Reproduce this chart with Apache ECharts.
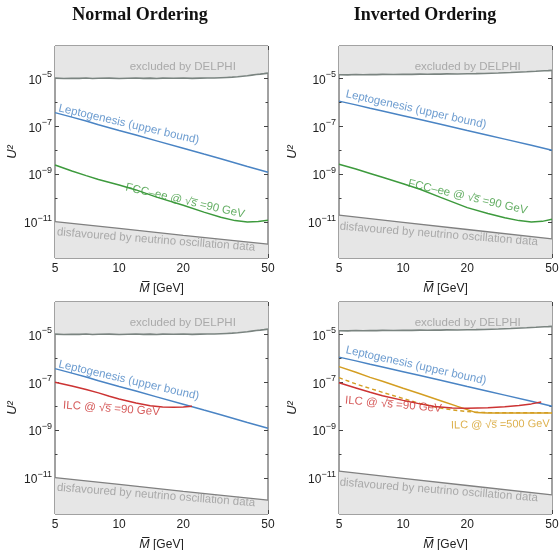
<!DOCTYPE html>
<html><head><meta charset="utf-8">
<script src="https://cdn.jsdelivr.net/npm/echarts@6/dist/echarts.min.js"></script>
<style>html,body{margin:0;padding:0;background:#fff}#c{width:560px;height:550px}</style>
</head><body><div id="c"></div>
<script>
// ---------- data ----------
const xMajorTicks = [5, 10, 20, 50];
const xMinorTicks = [6, 7, 8, 9, 30, 40];
const yMajorTicks = [1e-11, 1e-9, 1e-7, 1e-5];
const yMinorTicks = [1e-12, 1e-10, 1e-8, 1e-6, 1e-4];
const panelTitles = ['Normal Ordering', 'Inverted Ordering'];
const xTitle = 'M\u0305 [GeV]';
const yTitle = 'U²';

const delphiM  = [5,5.5,6,6.5,7,7.5,8,9,10,11,12,13,14,15,16,18,20,22,24,26,28,30,32,34,36,38,40,42,44,46,48,50];
const delphiNO = [1.02e-5,0.99e-5,1.01e-5,1.0e-5,1.03e-5,0.99e-5,1.01e-5,1.02e-5,0.99e-5,1.01e-5,1.03e-5,1.0e-5,1.02e-5,0.99e-5,1.02e-5,1.01e-5,1.03e-5,1.0e-5,1.02e-5,1.04e-5,1.03e-5,1.06e-5,1.09e-5,1.12e-5,1.16e-5,1.22e-5,1.28e-5,1.36e-5,1.44e-5,1.5e-5,1.57e-5,1.65e-5];
const delphiIO = [1.42e-5,1.4e-5,1.44e-5,1.41e-5,1.45e-5,1.43e-5,1.46e-5,1.44e-5,1.48e-5,1.46e-5,1.5e-5,1.48e-5,1.51e-5,1.5e-5,1.53e-5,1.52e-5,1.56e-5,1.58e-5,1.6e-5,1.64e-5,1.67e-5,1.72e-5,1.76e-5,1.8e-5,1.84e-5,1.88e-5,1.93e-5,1.97e-5,2.02e-5,2.06e-5,2.1e-5,2.15e-5];

const oscM  = [5, 10, 20, 50];
const oscNO = [1.05e-11, 5.5e-12, 2.8e-12, 1.2e-12];
const oscIO = [1.95e-11, 9.8e-12, 4.9e-12, 2.0e-12];

const leptoM  = [5,6,7,8,10,12,15,20,25,30,40,50];
const leptoNO = [3.7e-7,2.4e-7,1.65e-7,1.15e-7,6.6e-8,4.3e-8,2.45e-8,1.2e-8,6.9e-9,4.4e-9,2.1e-9,1.2e-9];
const leptoIO = [1.12e-6,7.8e-7,5.6e-7,4.3e-7,2.75e-7,1.9e-7,1.2e-7,6.6e-8,4.2e-8,2.9e-8,1.6e-8,1.0e-8];

const fccM  = [5,6,7,8,10,12,15,20,25,30,35,40,45,50];
const fccNO = [2.4e-9,1.35e-9,8.7e-10,6.0e-10,3.5e-10,2.2e-10,1.1e-10,5.0e-11,2.6e-11,1.6e-11,1.15e-11,1.0e-11,1.05e-11,1.2e-11];
const fccIO = [2.6e-9,1.65e-9,1.07e-9,7.4e-10,4.0e-10,2.35e-10,1.07e-10,4.0e-11,2.3e-11,1.5e-11,1.15e-11,1.0e-11,1.07e-11,1.3e-11];

const ilc90NOM = [5,6,7,8,9,10,12,14,16,18,20,22];
const ilc90NO  = [1.0e-7,7.0e-8,5.0e-8,3.6e-8,2.6e-8,2.0e-8,1.35e-8,1.05e-8,9.2e-9,9.0e-9,9.3e-9,1.0e-8];
const ilc90IOM = [5,6,7,8,10,12,14,17,20,25,30,35,40,44.5];
const ilc90IO  = [9.5e-8,5.8e-8,3.8e-8,2.75e-8,1.75e-8,1.25e-8,9.8e-9,8.5e-9,8.3e-9,8.7e-9,9.5e-9,1.07e-8,1.25e-8,1.5e-8];

const ilc500M      = [5,6,7,8,10,12,15,18,20,22,25,30,40,50];
const ilc500Solid  = [4.5e-7,2.6e-7,1.6e-7,1.1e-7,5.6e-8,3.3e-8,1.7e-8,9.8e-9,7.2e-9,5.4e-9,5.2e-9,5.2e-9,5.2e-9,5.2e-9];
const ilc500Dashed = [1.55e-7,8.5e-8,5.5e-8,3.8e-8,2.1e-8,1.3e-8,8.3e-9,6.6e-9,6.0e-9,5.6e-9,5.4e-9,5.3e-9,5.3e-9,5.3e-9];

// ---------- styling / layout ----------
const FONT = "'Liberation Sans', Arial, 'DejaVu Sans', sans-serif";
const C = {blue:'#4a84c4', green:'#3d9a3d', red:'#cc3333', gold:'#d49e22',
           fill:'#e6e6e6', bound:'#808080', delphi:'#7a8480', gtext:'#9a9a9a', ax:'#444'};
const grids = [
  {left:55, top:46, width:213, height:212},
  {left:339, top:46, width:213, height:212},
  {left:55, top:302, width:213, height:212},
  {left:339, top:302, width:213, height:212}
];
const YMIN = Math.pow(10, -12.5), YMAX = Math.pow(10, -3.65);

const xAxes = [], yAxes = [];
function mkX(g, pos, ticks, len, withLabels) {
  return {type:'log', logBase:10, min:5, max:50, gridIndex:g, position:pos,
    axisLine:{show:false}, splitLine:{show:false}, minorTick:{show:false},
    axisTick:{show:true, inside:true, length:len, customValues:ticks, lineStyle:{color:C.ax, width:1}},
    axisLabel: withLabels ? {show:true, customValues:ticks, margin:5, fontSize:12, color:'#222', fontFamily:FONT,
      formatter: v => String(Math.round(v))} : {show:false},
    name: withLabels ? '{i|M\u0305}{n| [GeV]}' : '', nameLocation:'middle', nameGap:24,
    nameTextStyle:{rich:{i:{fontStyle:'italic', fontSize:12.5, fontFamily:FONT, color:'#222'},
                         n:{fontSize:12, fontFamily:FONT, color:'#222'}}}
  };
}
function mkY(g, pos, ticks, len, withLabels, nameGap) {
  return {type:'log', logBase:10, min:YMIN, max:YMAX, gridIndex:g, position:pos,
    axisLine:{show:false}, splitLine:{show:false}, minorTick:{show:false},
    axisTick:{show:true, inside:true, length:len, customValues:ticks, lineStyle:{color:C.ax, width:1}},
    axisLabel: withLabels ? {show:true, customValues:ticks, margin:3, color:'#222', fontFamily:FONT,
      formatter: v => '{b|10}{s|−' + Math.abs(Math.round(Math.log10(v))) + '}',
      rich:{b:{fontSize:12, fontFamily:FONT, color:'#222', verticalAlign:'bottom', lineHeight:16},
            s:{fontSize:9, fontFamily:FONT, color:'#222', verticalAlign:'top', lineHeight:10}}} : {show:false},
    name: withLabels ? yTitle : '', nameLocation:'middle', nameGap:nameGap,
    nameTextStyle:{fontStyle:'italic', fontSize:13, fontFamily:FONT, color:'#222'}
  };
}
grids.forEach((gr, g) => {
  xAxes.push(mkX(g,'bottom',xMajorTicks,4,true), mkX(g,'bottom',xMinorTicks,2.5,false),
             mkX(g,'top',xMajorTicks,4,false), mkX(g,'top',xMinorTicks,2.5,false));
  const ng = (g % 2 === 0) ? 36 : 40;
  yAxes.push(mkY(g,'left',yMajorTicks,4,true,ng), mkY(g,'left',yMinorTicks,2.5,false,0),
             mkY(g,'right',yMajorTicks,4,false,0), mkY(g,'right',yMinorTicks,2.5,false,0));
});

function pairs(xs, ys) { return xs.map((x, i) => [x, ys[i]]); }
function line(g, xs, ys, color, width, extra) {
  return Object.assign({type:'line', xAxisIndex:4*g, yAxisIndex:4*g, data:pairs(xs, ys),
    symbol:'none', showSymbol:false, silent:true, animation:false, z:3,
    lineStyle:{color:color, width:width}}, extra || {});
}
function labels(g, items) {
  return {type:'scatter', xAxisIndex:4*g, yAxisIndex:4*g, symbolSize:0, silent:true, z:6, animation:false,
    itemStyle:{color:'transparent'},
    data: items.map(it => ({value:[it[0], it[1]], label:{show:true, position:'inside', formatter:it[2],
      rotate:it[3], color:it[4], fontSize:it[5] || 11.5, fontFamily:FONT}}))};
}
const FCC_TXT = 'FCC–ee @ √s\u0305 =90 GeV';
const ILC90_TXT = 'ILC @ √s\u0305 =90 GeV';
const ILC500_TXT = 'ILC @ √s\u0305 =500 GeV';
const LEP_TXT = 'Leptogenesis (upper bound)';
const DEL_TXT = 'excluded by DELPHI';
const OSC_TXT = 'disfavoured by neutrino oscillation data';

const series = [];
grids.forEach((gr, g) => {
  const io = g % 2 === 1;
  series.push(line(g, delphiM, io ? delphiIO : delphiNO, C.delphi, 1.6,
    {areaStyle:{color:C.fill, opacity:1, origin:'end'}, z:1}));
  series.push(line(g, oscM, io ? oscIO : oscNO, C.bound, 1.3,
    {areaStyle:{color:C.fill, opacity:1, origin:'start'}, z:1}));
  series.push(line(g, leptoM, io ? leptoIO : leptoNO, C.blue, 1.5));
});
series.push(line(0, fccM, fccNO, C.green, 1.5));
series.push(line(1, fccM, fccIO, C.green, 1.5));
series.push(line(2, ilc90NOM, ilc90NO, C.red, 1.5));
series.push(line(3, ilc500M, ilc500Solid, C.gold, 1.5));
series.push(line(3, ilc500M, ilc500Dashed, C.gold, 1.4, {lineStyle:{color:C.gold, width:1.4, type:[4,3]}}));
series.push(line(3, ilc90IOM, ilc90IO, C.red, 1.5));

series.push(labels(0, [[19.9,3.1e-5,DEL_TXT,0,C.gtext],[11.1,1.2e-7,LEP_TXT,-13,C.blue],
  [20.4,7.6e-11,FCC_TXT,-13,C.green],[14.9,1.8e-12,OSC_TXT,-4.5,C.gtext]]));
series.push(labels(1, [[20.1,3.0e-5,DEL_TXT,0,C.gtext],[11.5,5.0e-7,LEP_TXT,-12.5,C.blue],
  [20.1,1.1e-10,FCC_TXT,-13,C.green],[14.7,3.1e-12,OSC_TXT,-4.5,C.gtext]]));
series.push(labels(2, [[19.9,3.1e-5,DEL_TXT,0,C.gtext],[11.1,1.2e-7,LEP_TXT,-13,C.blue],
  [9.2,7.9e-9,ILC90_TXT,-4,C.red],[14.9,1.9e-12,OSC_TXT,-4.5,C.gtext]]));
series.push(labels(3, [[20.1,3.0e-5,DEL_TXT,0,C.gtext],[11.5,5.0e-7,LEP_TXT,-12.5,C.blue],
  [9.0,1.17e-8,ILC90_TXT,-5,C.red],[28.6,1.7e-9,ILC500_TXT,1,C.gold,11],[14.7,3.1e-12,OSC_TXT,-4.5,C.gtext]]));

const chart = echarts.init(document.getElementById('c'), null, {renderer:'canvas'});
chart.setOption({
  animation:false,
  backgroundColor:'#fff',
  grid: grids.map(gr => Object.assign({show:true, borderColor:'#444', borderWidth:1,
    backgroundColor:'transparent', containLabel:false, outerBoundsMode:'none'}, gr)),
  xAxis: xAxes,
  yAxis: yAxes,
  series: series,
  graphic: [
    {type:'text', x:140, y:15, z:10, style:{text:panelTitles[0], align:'center', verticalAlign:'middle',
      font:"bold 18px 'Liberation Serif', 'DejaVu Serif', serif", fill:'#111'}},
    {type:'text', x:425, y:15, z:10, style:{text:panelTitles[1], align:'center', verticalAlign:'middle',
      font:"bold 18px 'Liberation Serif', 'DejaVu Serif', serif", fill:'#111'}}
  ]
});
</script>
</body></html>
